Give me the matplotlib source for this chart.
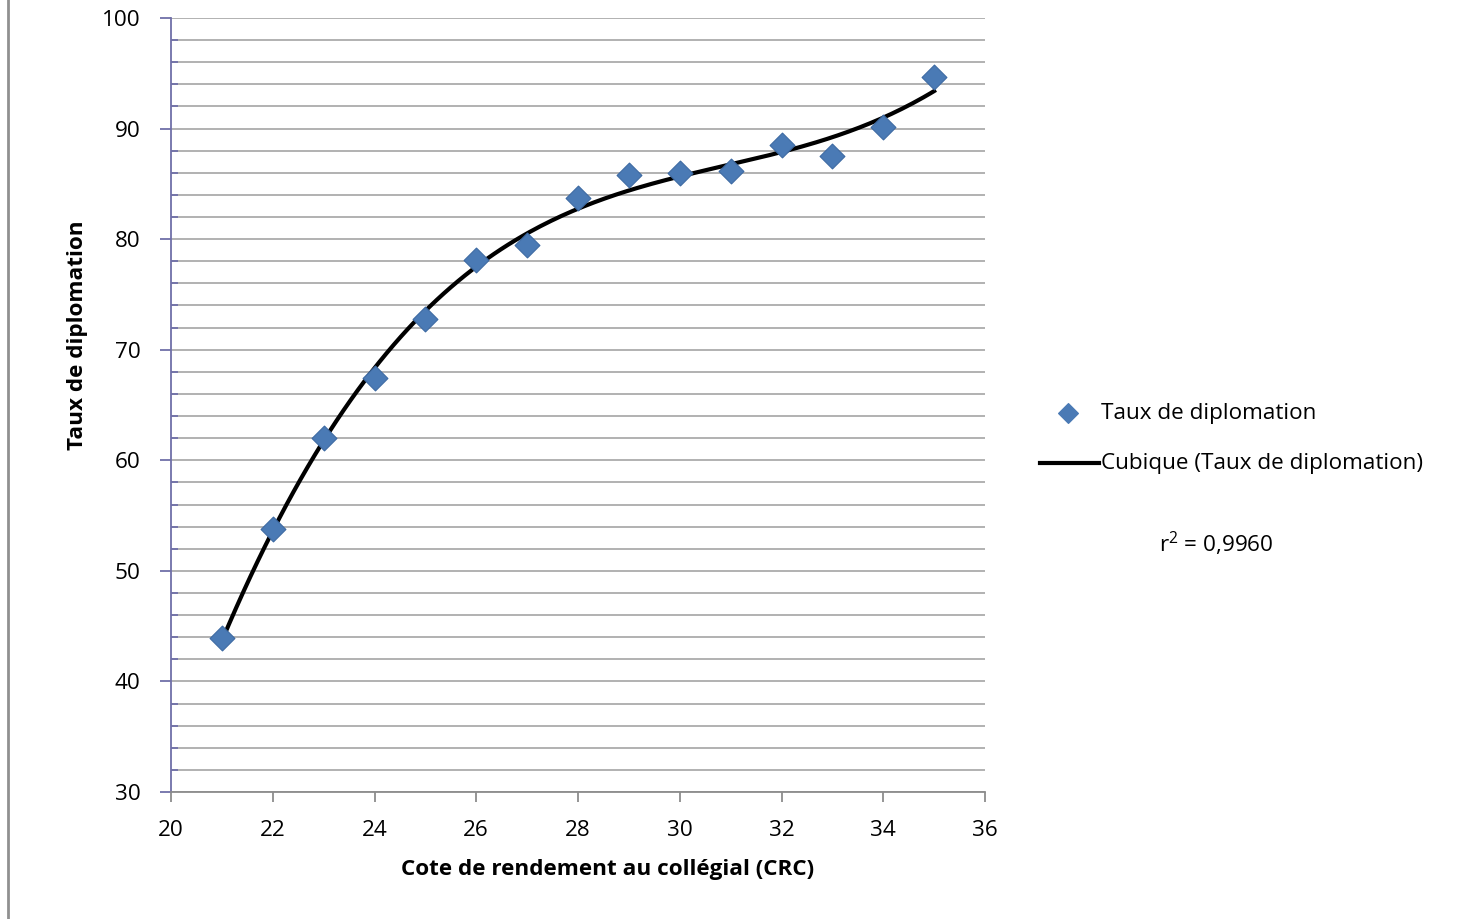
import numpy as np
import matplotlib
matplotlib.use("Agg")
import matplotlib.pyplot as plt
from matplotlib.lines import Line2D
from matplotlib.ticker import MultipleLocator

crc = [21, 22, 23, 24, 25, 26, 27, 28, 29, 30, 31, 32, 33, 34, 35]
taux = [43.9, 53.8, 62.0, 67.4, 72.8, 78.1, 79.5, 83.7, 85.8, 86.0, 86.2, 88.5, 87.5, 90.1, 94.7]
x_label = "Cote de rendement au collégial (CRC)"
y_label = "Taux de diplomation"
series_name = "Taux de diplomation"
fit_name = "Cubique (Taux de diplomation)"
r2_text = "r$^2$ = 0,9960"

plt.rcParams['font.family'] = ['Open Sans', 'DejaVu Sans']
plt.rcParams['mathtext.fontset'] = 'custom'
plt.rcParams['mathtext.rm'] = 'Open Sans'

FS = 16.2

fig = plt.figure(figsize=(14.58, 9.19), dpi=100)
ax = fig.add_axes([171/1458, 127/919, (985-171)/1458, (792-18)/919])

# cubic fit
coef = np.polyfit(crc, taux, 3)
xs = np.linspace(min(crc), max(crc), 200)
ax.plot(xs, np.polyval(coef, xs), color='black', lw=3, zorder=3)
ax.scatter(crc, taux, marker='D', s=160, color='#4a7ab5', edgecolors='#3d6aa3', linewidths=0.8, zorder=4)

ax.set_xlim(20, 36)
ax.set_ylim(30, 100)
ax.xaxis.set_major_locator(MultipleLocator(2))
ax.yaxis.set_major_locator(MultipleLocator(10))
ax.yaxis.set_minor_locator(MultipleLocator(2))
ax.grid(True, which='both', axis='y', color='#ababab', lw=1.3)
ax.set_axisbelow(True)

for s in ['top', 'right']:
    ax.spines[s].set_visible(False)
ax.spines['left'].set_color('#7070a8')
ax.spines['left'].set_linewidth(1.3)
ax.spines['bottom'].set_color('#8c8c8c')
ax.spines['bottom'].set_linewidth(1.3)

ax.tick_params(axis='y', which='major', direction='out', length=8, width=1.3, color='#7070a8', labelsize=FS, pad=14)
ax.tick_params(axis='y', which='minor', direction='in', length=5, width=1.3, color='#7070a8')
ax.tick_params(axis='x', which='major', direction='out', length=7, width=1.3, color='#8c8c8c', labelsize=FS, pad=13)

ax.set_xlabel(x_label, fontsize=FS, fontweight='bold')
ax.set_ylabel(y_label, fontsize=FS, fontweight='bold')
ax.xaxis.set_label_coords((608-171)/814, -(869-792)/774)
ax.yaxis.set_label_coords(-(171-78)/814, (792-335)/774)
ax.xaxis.label.set_va('center')
ax.yaxis.label.set_va('center')

# legend (drawn manually to match layout)
ax.scatter([1068/1458], [1-413/919], marker='D', s=100, color='#4a7ab5', transform=fig.transFigure, clip_on=False)
fig.text(1101/1458, 1-413/919, series_name, fontsize=FS, va='center', ha='left')
fig.add_artist(Line2D([1040/1458, 1099/1458], [1-463/919, 1-463/919], color='black', lw=3))
fig.text(1101/1458, 1-463/919, fit_name, fontsize=FS, va='center', ha='left')
fig.text(1216/1458, 1-544/919, r2_text, fontsize=FS, va='center', ha='center')

# left frame border
fig.add_artist(Line2D([8/1458, 8/1458], [0, 1], color='#909090', lw=2))

fig.savefig("out.png", dpi=100)
